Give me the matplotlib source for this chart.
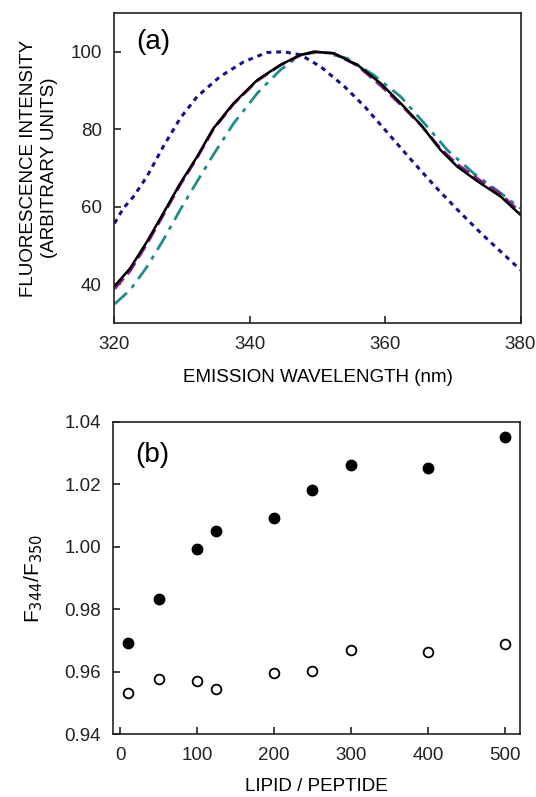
import matplotlib.pyplot as plt
import numpy as np

plt.rcParams['font.family'] = ['Liberation Sans', 'DejaVu Sans']

# panel (a): emission spectra, normalised to 100
wl_black = [320, 322.3, 324.8, 327.2, 329.7, 332.2, 334.6, 337.6, 341.1, 344.5, 347.5, 349.5,
            352.4, 355.9, 359.3, 362.3, 365.3, 368.2, 370.7, 373.7, 377.1, 380]
int_black = [39.5, 44.1, 51.0, 58.3, 66.0, 72.9, 80.2, 86.7, 92.7, 96.6, 99.2, 100.0,
             99.6, 96.6, 91.9, 86.7, 81.1, 74.6, 70.3, 66.5, 62.6, 57.9]

wl_magenta = [320, 322.3, 324.8, 327.2, 329.7, 332.2, 334.6, 337.6, 341.1, 344.5, 347.5, 349.5,
              352.4, 355.9, 359.3, 362.3, 365.3, 368.2, 370.7, 373.7, 377.1, 380]
int_magenta = [38.8, 43.4, 50.4, 57.8, 65.6, 72.6, 79.9, 86.5, 92.5, 96.5, 99.1, 100.0,
               99.6, 96.4, 91.3, 86.3, 81.0, 75.0, 70.9, 67.2, 63.2, 58.6]

wl_teal = [320, 322.3, 324.8, 327.2, 329.7, 332.2, 334.6, 337.6, 341.1, 344.5, 347.5, 350.5,
           354.4, 358.3, 362.3, 366.2, 369.2, 373.1, 377.1, 380]
int_teal = [34.9, 38.5, 44.5, 51.4, 59.2, 66.5, 73.4, 81.5, 89.3, 95.3, 99.2, 100.0,
            98.3, 94.0, 88.4, 80.7, 74.6, 68.6, 63.5, 59.6]

wl_navy = [320, 321.3, 322.8, 324.8, 327.2, 329.7, 332.2, 335.6, 339.1, 342.5, 345, 347.5,
           350.5, 354, 357, 360.4, 363.9, 367.4, 370.7, 374.2, 377.1, 380]
int_navy = [55.7, 59.6, 62.6, 67.8, 75.5, 82.8, 88.4, 93.6, 97.4, 99.8, 100.0, 99.2,
            96.1, 91.0, 85.8, 79.0, 72.0, 65.2, 59.2, 53.1, 48.4, 43.7]

# panel (b): F344/F350 ratio vs lipid/peptide
lp = [10, 50, 100, 125, 200, 250, 300, 400, 500]
ratio_filled = [0.9693, 0.9833, 0.9992, 1.0052, 1.0092, 1.0182, 1.0261, 1.0253, 1.0352]
ratio_open = [0.9531, 0.9577, 0.9572, 0.9544, 0.9597, 0.9601, 0.9669, 0.9662, 0.9690]

fig = plt.figure(figsize=(5.36, 7.97), dpi=100)
ax1 = fig.add_axes([0.2136, 0.5947, 0.7575, 0.389])
ax2 = fig.add_axes([0.2114, 0.0787, 0.759, 0.392])

ax1.plot(wl_navy, int_navy, color='#14148a', lw=2.2, dashes=(1.6, 1.6))
ax1.plot(wl_teal, int_teal, color='#1e8c8c', lw=2.0, dashes=(6, 2.5, 1.5, 2.5))
ax1.plot(wl_magenta, int_magenta, color='#8a1a8a', lw=2.0, dashes=(5, 2))
ax1.plot(wl_black, int_black, color='black', lw=1.8)
ax1.set_xlim(320, 380)
ax1.set_ylim(30, 110)
ax1.set_xticks([320, 340, 360, 380])
ax1.set_yticks([40, 60, 80, 100])
ax1.set_xlabel('EMISSION WAVELENGTH (nm)', fontsize=13.5, labelpad=12)
ax1.set_ylabel('FLUORESCENCE INTENSITY\n(ARBITRARY UNITS)', fontsize=13.5, labelpad=9,
               linespacing=1.3)
ax1.text(0.053, 0.906, '(a)', transform=ax1.transAxes, fontsize=20, va='center', ha='left')

ax2.plot(lp, ratio_filled, 'o', color='black', ms=7.5)
ax2.plot(lp, ratio_open, 'o', mfc='white', mec='black', mew=1.3, ms=7)
ax2.set_xlim(-9, 520)
ax2.set_ylim(0.94, 1.04)
ax2.set_xticks([0, 100, 200, 300, 400, 500])
ax2.set_yticks([0.94, 0.96, 0.98, 1.00, 1.02, 1.04])
ax2.set_yticklabels(['0.94', '0.96', '0.98', '1.00', '1.02', '1.04'])
ax2.set_xlabel('LIPID / PEPTIDE', fontsize=13.5, labelpad=10)
ax2.set_ylabel('F$_{344}$/F$_{350}$', fontsize=15, labelpad=14)
ax2.text(0.055, 0.894, '(b)', transform=ax2.transAxes, fontsize=20, va='center', ha='left')

for ax in (ax1, ax2):
    for s in ax.spines.values():
        s.set_linewidth(1.2)
        s.set_color('#222222')
    ax.tick_params(direction='in', length=5, width=1.2, labelsize=13.5, pad=9,
                   top=False, right=False, colors='#222222')

fig.savefig('out.png', dpi=100)
